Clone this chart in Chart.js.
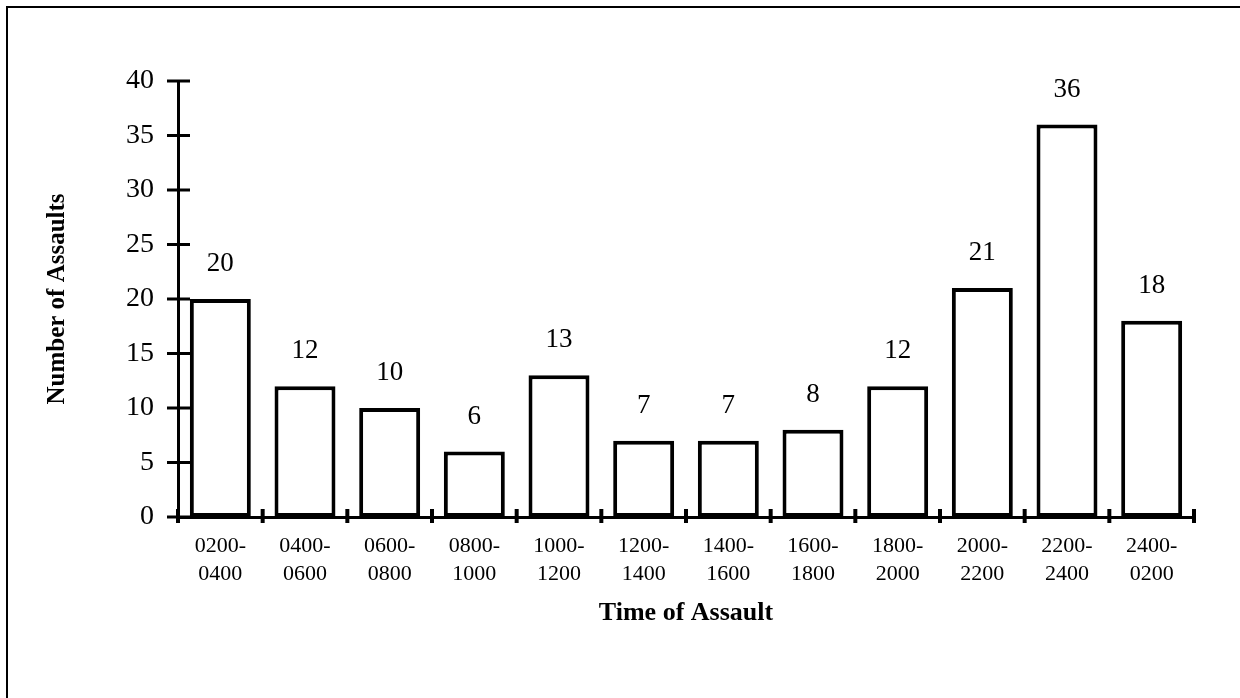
<!DOCTYPE html>
<html><head><meta charset="utf-8">
<script src="https://cdn.jsdelivr.net/npm/chart.js@4/dist/chart.umd.min.js"></script>
<style>
html,body{margin:0;padding:0;background:#fff;}
#wrap{position:relative;width:1240px;height:698px;overflow:hidden;background:#fff;}
#frame{position:absolute;left:6px;top:6px;width:1300px;height:800px;border-left:2px solid #000;border-top:2px solid #000;}
canvas{position:absolute;left:0;top:0;}
</style></head>
<body><div id="wrap"><div id="frame"></div><canvas id="c" width="1240" height="698"></canvas></div>
<script>
const categories = [["0200-","0400"],["0400-","0600"],["0600-","0800"],["0800-","1000"],["1000-","1200"],["1200-","1400"],["1400-","1600"],["1600-","1800"],["1800-","2000"],["2000-","2200"],["2200-","2400"],["2400-","0200"]];
const assaults = [20,12,10,6,13,7,7,8,12,21,36,18];
const yMin = 0, yMax = 40, yStep = 5;
const xTitle = "Time of Assault";
const yTitle = "Number of Assaults";

const serif = '"Liberation Serif", "Times New Roman", serif';

const marks = {
  id: 'marks',
  afterDraw(chart) {
    const {ctx, chartArea: a, scales: {x, y}} = chart;
    ctx.save();
    ctx.strokeStyle = '#000';
    ctx.lineWidth = 3;
    y.ticks.forEach((t, i) => {
      const py = y.getPixelForTick(i);
      ctx.beginPath(); ctx.moveTo(a.left - 11, py); ctx.lineTo(a.left + 12, py); ctx.stroke();
    });
    ctx.lineWidth = 4;
    for (let i = 0; i <= categories.length; i++) {
      const px = x.getPixelForValue(i - 0.5);
      ctx.beginPath(); ctx.moveTo(px, a.bottom - 8); ctx.lineTo(px, a.bottom + 6); ctx.stroke();
    }
    const meta = chart.getDatasetMeta(0);
    ctx.font = '27px ' + serif;
    ctx.textAlign = 'center';
    ctx.textBaseline = 'middle';
    ctx.fillStyle = '#000';
    meta.data.forEach((bar, i) => ctx.fillText(String(assaults[i]), bar.x, bar.y - 35));
    ctx.restore();
  }
};

new Chart(document.getElementById('c'), {
  type: 'bar',
  data: {
    labels: categories,
    datasets: [{
      data: assaults,
      backgroundColor: '#fff',
      borderColor: '#000',
      borderWidth: 4,
      borderSkipped: false,
      barPercentage: 0.72,
      categoryPercentage: 1
    }]
  },
  options: {
    responsive: false,
    animation: false,
    events: [],
    layout: { padding: { left: 0, top: 81, right: 46, bottom: 0 } },
    plugins: { legend: { display: false }, tooltip: { enabled: false } },
    scales: {
      x: {
        grid: { display: false, drawTicks: false },
        border: { display: true, color: '#000', width: 3 },
        ticks: { color: '#000', padding: 15, maxRotation: 0, autoSkip: false,
                 font: { family: serif, size: 22, lineHeight: 1.27 } },
        title: { display: true, text: xTitle, color: '#000',
                 font: { family: serif, size: 26, weight: 'bold', lineHeight: 1.2 },
                 padding: { top: 0, bottom: 69 } },
        afterFit(s) { s.height = 181; }
      },
      y: {
        min: yMin, max: yMax,
        grid: { display: false, drawTicks: false },
        border: { display: true, color: '#000', width: 3 },
        ticks: { stepSize: yStep, color: '#000', padding: 24,
                 font: { family: serif, size: 28 } },
        title: { display: true, text: yTitle, color: '#000',
                 font: { family: serif, size: 25, weight: 'bold', lineHeight: 1.2 },
                 padding: { top: 43, bottom: 0 } },
        afterFit(s) { s.width = 178; }
      }
    }
  },
  plugins: [marks]
});
</script>
</body></html>
